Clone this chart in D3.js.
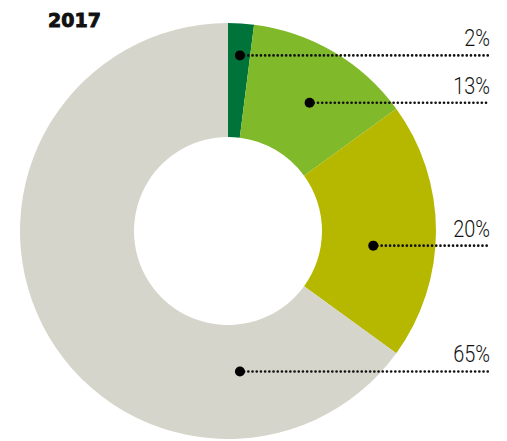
<!DOCTYPE html>
<html lang="en">
<head>
<meta charset="UTF-8">
<title>2017</title>
<script src="https://cdnjs.cloudflare.com/ajax/libs/d3/7.8.5/d3.min.js"></script>
<style>
    body { margin: 0; background: #fff; }
    .title { font: bold 19px "DejaVu Sans", sans-serif; fill: #111; stroke: #111; stroke-width: 0.9px; }
    .pct { font: 300 24px Roboto, "DejaVu Sans Condensed", sans-serif; fill: #111; text-anchor: end; }
</style>
</head>
<body>
<script>
    // data
    var categories = ["a", "b", "c", "d"];
    var values = [2, 13, 20, 65];
    var labels = ["2%", "13%", "20%", "65%"];
    var colors = ["#00733a", "#80b929", "#b6b800", "#d5d5cb"];

    // where each marker sits inside its slice (fraction of the slice angle, radius)
    var markerAt = [[0.54, 176], [0.54, 152], [0.58, 146], [0.21, 141]];

    var width = 507, height = 441,
        cx = 228, cy = 231,
        outer = 208, inner = 94,
        lineEnd = 490;

    var svg = d3.select("body").append("svg")
        .attr("width", width)
        .attr("height", height);

    svg.append("text")
        .attr("class", "title")
        .attr("x", 48)
        .attr("y", 27)
        .text("2017");

    var pie = d3.pie().sort(null).value(function(d) { return d; });
    var arc = d3.arc().innerRadius(inner).outerRadius(outer);
    var arcs = pie(values);

    var g = svg.append("g").attr("transform", "translate(" + cx + "," + cy + ")");

    g.selectAll("path")
        .data(arcs)
        .enter().append("path")
        .attr("d", arc)
        .attr("fill", function(d, i) { return colors[i]; });

    // marker position from angle + radius
    function marker(d, i) {
        var a = d.startAngle + (d.endAngle - d.startAngle) * markerAt[i][0];
        var r = markerAt[i][1];
        return [Math.sin(a) * r, -Math.cos(a) * r];
    }

    var lab = g.selectAll(".lab")
        .data(arcs)
        .enter().append("g")
        .attr("class", "lab");

    lab.append("line")
        .attr("x1", function(d, i) { return marker(d, i)[0]; })
        .attr("y1", function(d, i) { return marker(d, i)[1]; })
        .attr("x2", lineEnd - cx)
        .attr("y2", function(d, i) { return marker(d, i)[1]; })
        .attr("stroke", "#111")
        .attr("stroke-width", 2.7)
        .attr("stroke-linecap", "round")
        .attr("stroke-dasharray", "0 4.2");

    lab.append("circle")
        .attr("cx", function(d, i) { return marker(d, i)[0]; })
        .attr("cy", function(d, i) { return marker(d, i)[1]; })
        .attr("r", 5)
        .attr("fill", "#000");

    // condensed look: squeeze the light face horizontally
    lab.append("text")
        .attr("class", "pct")
        .attr("transform", function(d, i) {
            return "translate(" + (lineEnd - cx) + "," + (marker(d, i)[1] - 9) + ") scale(0.83,1)";
        })
        .text(function(d, i) { return labels[i]; });
</script>
</body>
</html>
